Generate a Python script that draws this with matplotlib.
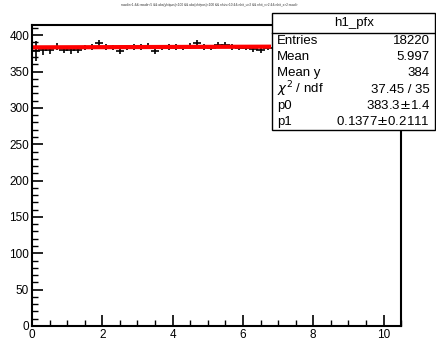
import numpy as np
import matplotlib
matplotlib.use("Agg")
import matplotlib.pyplot as plt
from matplotlib.ticker import MultipleLocator

plt.rcParams['font.family'] = ['Liberation Sans', 'DejaVu Sans']

# profile bins (centres) and values
x_centers = [0.1, 0.3, 0.5, 0.7, 0.9, 1.1, 1.3, 1.5, 1.7, 1.9, 2.1, 2.3,
             2.5, 2.7, 2.9, 3.1, 3.3, 3.5, 3.7, 3.9, 4.1, 4.3, 4.5, 4.7,
             4.9, 5.1, 5.3, 5.5, 5.7, 5.9, 6.1, 6.3, 6.5, 6.7]
y_vals = [378, 379, 379, 384, 380, 379, 380, 383, 384, 389, 384, 383,
          378, 383, 384, 384, 385, 378, 383, 384, 384, 383, 385, 389,
          384, 383, 387, 386, 384, 383, 383, 381, 380, 383]
y_errs = [14, 6, 5, 5, 5, 5, 5, 4, 4, 4, 4, 4,
          4, 4, 4, 4, 4, 4, 4, 4, 4, 4, 4, 4,
          4, 4, 4, 4, 4, 4, 4, 4, 4, 4]
bin_half = 0.12

# linear fit result
p0 = 383.3
p1 = 0.1377
fit_range = [0.0, 6.8]

stats_names = ["Entries", "Mean", "Mean y", r"$\chi^2$ / ndf", "p0", "p1"]
stats_vals = ["18220", "5.997", "384", "37.45 / 35", r"383.3$\pm$1.4", r"0.1377$\pm$0.2111"]

fig = plt.figure(figsize=(4.36, 3.43), dpi=100)
ax = fig.add_axes([0.0734, 0.0496, 0.8466, 0.8774])

ax.errorbar(x_centers, y_vals, xerr=bin_half, yerr=y_errs, fmt='none',
            ecolor='black', elinewidth=1.2, capsize=0)
xf = np.array(fit_range)
ax.plot(xf, p0 + p1 * xf, color='red', lw=3, solid_capstyle='butt')

ax.set_xlim(0, 10.5)
ax.set_ylim(0, 414)
ax.xaxis.set_major_locator(MultipleLocator(2))
ax.xaxis.set_minor_locator(MultipleLocator(0.5))
ax.yaxis.set_major_locator(MultipleLocator(50))
ax.yaxis.set_minor_locator(MultipleLocator(10))
ax.tick_params(which='both', direction='in', top=False, right=False,
               labelsize=8.5)
ax.tick_params(axis='x', pad=2)
ax.tick_params(axis='y', pad=2)
ax.tick_params(which='major', length=8, width=1.2)
ax.tick_params(which='minor', length=4, width=1.0)
for s in ax.spines.values():
    s.set_linewidth(1.5)
# y "0" sits a little higher in the reference
ylab = ax.get_yticklabels()
ylab[0].set_va('bottom')

# tiny title line at the top of the canvas
fig.text(0.48, 0.985,
         "rawdir>1 && rawdir<5 && abs(yhitpos)<100 && abs(xhitpos)<100 && nhits>10 && nhit_u>2 && nhit_v>2 && nhit_x>2:rawdir",
         ha='center', va='center', fontsize=2.3, color='#333333')

# stats box
bx0, bx1 = 0.624, 0.998
by_top, by_title, by_bot = 0.962, 0.904, 0.621
fig.patches.append(plt.Rectangle((bx0, by_bot), bx1 - bx0, by_top - by_bot,
                                 transform=fig.transFigure, facecolor='white',
                                 edgecolor='black', lw=1.0, zorder=5))
fig.lines.append(plt.Line2D([bx0, bx1], [by_title, by_title],
                            transform=fig.transFigure, color='black', lw=1.0, zorder=6))
fig.text((bx0 + bx1) / 2, (by_top + by_title) / 2, "h1_pfx", ha='center',
         va='center', fontsize=9.5, zorder=7)
row_h = (by_title - by_bot) / 6
for i, (n, v) in enumerate(zip(stats_names, stats_vals)):
    yy = by_title - row_h * (i + 0.5)
    fig.text(bx0 + 0.012, yy, n, ha='left', va='center', fontsize=9.5, zorder=7)
    fig.text(bx1 - 0.012, yy, v, ha='right', va='center', fontsize=9.5, zorder=7)

fig.savefig("out.png", dpi=100)
